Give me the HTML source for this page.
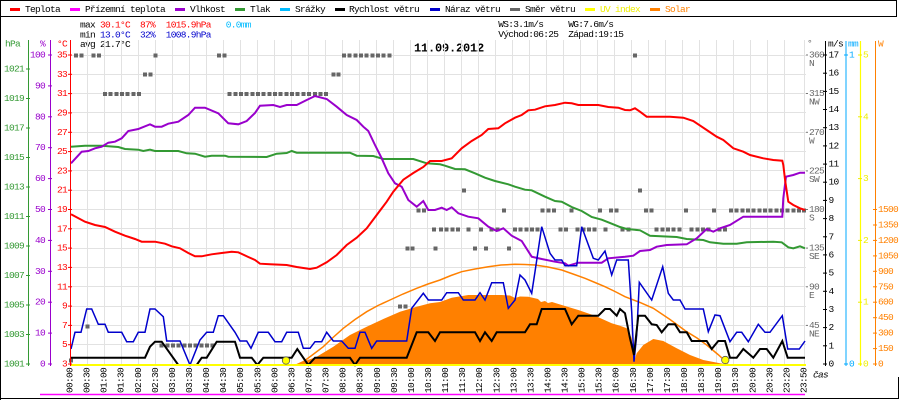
<!DOCTYPE html>
<html><head><meta charset="utf-8"><style>
html,body{margin:0;padding:0;background:#fff;}
svg{display:block;}
text{font-family:"Liberation Mono","DejaVu Sans Mono",monospace;font-size:9.5px;letter-spacing:-0.7px;}
.c{dominant-baseline:central;}
</style></head><body>
<svg width="900" height="400" viewBox="0 0 900 400" xmlns="http://www.w3.org/2000/svg">
<rect x="0" y="0" width="900" height="400" fill="#fff"/>
<!-- frame -->
<g stroke="#000" stroke-width="1" shape-rendering="crispEdges">
<line x1="0.5" y1="0" x2="0.5" y2="400"/>
<line x1="0" y1="0.5" x2="897" y2="0.5"/>
<line x1="0" y1="16.5" x2="897" y2="16.5"/>
<line x1="896.5" y1="0" x2="896.5" y2="17"/>
<line x1="0" y1="398.5" x2="899" y2="398.5"/>
<line x1="898.5" y1="377" x2="898.5" y2="399"/>
</g>
<!-- legend -->
<g stroke-width="3">
<line x1="10" y1="9.5" x2="20" y2="9.5" stroke="#f00"/>
<line x1="70" y1="9.5" x2="80" y2="9.5" stroke="#f0f"/>
<line x1="175" y1="9.5" x2="185" y2="9.5" stroke="#9900cc"/>
<line x1="235" y1="9.5" x2="245" y2="9.5" stroke="#339933"/>
<line x1="280" y1="9.5" x2="290" y2="9.5" stroke="#00bbff"/>
<line x1="335" y1="9.5" x2="345" y2="9.5" stroke="#000"/>
<line x1="430" y1="9.5" x2="440" y2="9.5" stroke="#0000cc"/>
<line x1="510" y1="9.5" x2="520" y2="9.5" stroke="#666"/>
<line x1="585" y1="9.5" x2="595" y2="9.5" stroke="#ffff00"/>
<line x1="650" y1="9.5" x2="660" y2="9.5" stroke="#ff8000"/>
</g>
<g fill="#000">
<text x="25" y="12">Teplota</text>
<text x="85" y="12">Přízemní teplota</text>
<text x="190" y="12">Vlhkost</text>
<text x="250" y="12">Tlak</text>
<text x="295" y="12">Srážky</text>
<text x="349" y="12">Rychlost větru</text>
<text x="445" y="12">Náraz větru</text>
<text x="525" y="12">Směr větru</text>
<text x="600" y="12" fill="#eeee00">UV index</text>
<text x="665" y="12" fill="#ff8000">Solar</text>
</g>
<!-- stats -->
<text x="80" y="27.5">max</text>
<text x="100" y="27.5" fill="#f00">30.1°C</text>
<text x="140" y="27.5" fill="#f00">87%</text>
<text x="165.7" y="27.5" fill="#f00">1015.9hPa</text>
<text x="225.7" y="27.5" fill="#00bbff">0.0mm</text>
<text x="80" y="37.5">min</text>
<text x="100" y="37.5" fill="#0000cc">13.0°C</text>
<text x="140" y="37.5" fill="#0000cc">32%</text>
<text x="165.7" y="37.5" fill="#0000cc">1008.9hPa</text>
<text x="80" y="47">avg 21.7°C</text>
<text x="498.3" y="27">WS:3.1m/s</text>
<text x="568.3" y="27">WG:7.6m/s</text>
<text x="498.3" y="37">Východ:06:25</text>
<text x="568.3" y="37">Západ:19:15</text>
<text x="414" y="51.5" style="font-size:12px;font-weight:bold;letter-spacing:-0.2px">11.09.2012</text>
<!-- grid -->
<g stroke="#e2e2e2" stroke-width="1" shape-rendering="crispEdges">
<line x1="87.5" y1="40" x2="87.5" y2="364"/><line x1="104.5" y1="40" x2="104.5" y2="364"/><line x1="121.5" y1="40" x2="121.5" y2="364"/><line x1="138.5" y1="40" x2="138.5" y2="364"/><line x1="155.5" y1="40" x2="155.5" y2="364"/><line x1="172.5" y1="40" x2="172.5" y2="364"/><line x1="189.5" y1="40" x2="189.5" y2="364"/><line x1="206.5" y1="40" x2="206.5" y2="364"/><line x1="223.5" y1="40" x2="223.5" y2="364"/><line x1="240.5" y1="40" x2="240.5" y2="364"/><line x1="257.5" y1="40" x2="257.5" y2="364"/><line x1="274.5" y1="40" x2="274.5" y2="364"/><line x1="291.5" y1="40" x2="291.5" y2="364"/><line x1="308.5" y1="40" x2="308.5" y2="364"/><line x1="325.5" y1="40" x2="325.5" y2="364"/><line x1="342.5" y1="40" x2="342.5" y2="364"/><line x1="359.5" y1="40" x2="359.5" y2="364"/><line x1="376.5" y1="40" x2="376.5" y2="364"/><line x1="393.5" y1="40" x2="393.5" y2="364"/><line x1="410.5" y1="40" x2="410.5" y2="364"/><line x1="427.5" y1="40" x2="427.5" y2="364"/><line x1="444.5" y1="40" x2="444.5" y2="364"/><line x1="461.5" y1="40" x2="461.5" y2="364"/><line x1="478.5" y1="40" x2="478.5" y2="364"/><line x1="495.5" y1="40" x2="495.5" y2="364"/><line x1="512.5" y1="40" x2="512.5" y2="364"/><line x1="529.5" y1="40" x2="529.5" y2="364"/><line x1="546.5" y1="40" x2="546.5" y2="364"/><line x1="563.5" y1="40" x2="563.5" y2="364"/><line x1="580.5" y1="40" x2="580.5" y2="364"/><line x1="597.5" y1="40" x2="597.5" y2="364"/><line x1="614.5" y1="40" x2="614.5" y2="364"/><line x1="631.5" y1="40" x2="631.5" y2="364"/><line x1="648.5" y1="40" x2="648.5" y2="364"/><line x1="665.5" y1="40" x2="665.5" y2="364"/><line x1="682.5" y1="40" x2="682.5" y2="364"/><line x1="699.5" y1="40" x2="699.5" y2="364"/><line x1="716.5" y1="40" x2="716.5" y2="364"/><line x1="733.5" y1="40" x2="733.5" y2="364"/><line x1="750.5" y1="40" x2="750.5" y2="364"/><line x1="767.5" y1="40" x2="767.5" y2="364"/><line x1="784.5" y1="40" x2="784.5" y2="364"/><line x1="804.5" y1="40" x2="804.5" y2="364"/>
<line x1="70" y1="55.5" x2="806" y2="55.5"/><line x1="70" y1="74.5" x2="806" y2="74.5"/><line x1="70" y1="93.5" x2="806" y2="93.5"/><line x1="70" y1="112.5" x2="806" y2="112.5"/><line x1="70" y1="132.5" x2="806" y2="132.5"/><line x1="70" y1="151.5" x2="806" y2="151.5"/><line x1="70" y1="170.5" x2="806" y2="170.5"/><line x1="70" y1="190.5" x2="806" y2="190.5"/><line x1="70" y1="209.5" x2="806" y2="209.5"/><line x1="70" y1="228.5" x2="806" y2="228.5"/><line x1="70" y1="248.5" x2="806" y2="248.5"/><line x1="70" y1="267.5" x2="806" y2="267.5"/><line x1="70" y1="286.5" x2="806" y2="286.5"/><line x1="70" y1="306.5" x2="806" y2="306.5"/><line x1="70" y1="325.5" x2="806" y2="325.5"/><line x1="70" y1="344.5" x2="806" y2="344.5"/>
</g>
<!-- solar fill -->
<polygon fill="#ff8000" points="293.3,365 300,363 316.7,356.7 333.3,346.7 350,335 366.7,326.7 383.3,319 400,311.7 416.7,306.7 430,303.3 440,302 451.7,297.7 468.3,295 501.7,295 510,295.5 515,298 520,296.5 528.3,296.7 538,299 541,302 545,301 548,303 552,302 561.7,305 578.3,310 595,315.7 611.7,323.3 620,325.7 626.7,328.3 631.7,338.3 634,361.7 636.7,353.3 643.3,345 653.3,339 663.3,341 676.7,348.3 690,355 703.3,360 720,363.3 730,365"/>
<!-- solar max line -->
<polyline fill="none" stroke="#ff8000" stroke-width="1.5" points="296,365 303.3,361.7 313,354.5 323.3,346.7 333,337.5 343.3,328.3 355,319.5 366.7,311.7 378,305.5 390,300 403,294 416.7,288.3 428,284 440,280 451,275.5 461.7,271.7 475,269 488.3,266.7 501,265 515,264.3 525,264.5 535,265 548,267 561.7,270 573,274 585,278.3 595,282.5 605,286.7 615,291.5 625,296.7 640,302.5 653.3,308.3 670,319.5 686.7,331.7 697,338 706.7,345 718,354.5 728,363.5"/>
<!-- wind direction squares -->
<g fill="#666" shape-rendering="crispEdges">
<rect x="74" y="53.5" width="4" height="4"/><rect x="79.7" y="53.5" width="4" height="4"/><rect x="91.3" y="53.5" width="4" height="4"/><rect x="97" y="53.5" width="4" height="4"/><rect x="153.7" y="53.5" width="4" height="4"/><rect x="217" y="53.5" width="4" height="4"/><rect x="222.3" y="53.5" width="4" height="4"/><rect x="342" y="53.5" width="4" height="4"/><rect x="347.7" y="53.5" width="4" height="4"/><rect x="353.3" y="53.5" width="4" height="4"/><rect x="359" y="53.5" width="4" height="4"/><rect x="364.7" y="53.5" width="4" height="4"/><rect x="370.3" y="53.5" width="4" height="4"/><rect x="376" y="53.5" width="4" height="4"/><rect x="381.7" y="53.5" width="4" height="4"/><rect x="387.3" y="53.5" width="4" height="4"/><rect x="633" y="53.5" width="4" height="4"/>
<rect x="143" y="72.5" width="4" height="4"/><rect x="148.3" y="72.5" width="4" height="4"/><rect x="331.3" y="72.5" width="4" height="4"/><rect x="336.3" y="72.5" width="4" height="4"/>
<rect x="103" y="92" width="4" height="4"/><rect x="108.7" y="92" width="4" height="4"/><rect x="114.3" y="92" width="4" height="4"/><rect x="120" y="92" width="4" height="4"/><rect x="125.7" y="92" width="4" height="4"/><rect x="131.3" y="92" width="4" height="4"/><rect x="137" y="92" width="4" height="4"/>
<rect x="227.7" y="92" width="4" height="4"/><rect x="233.4" y="92" width="4" height="4"/><rect x="239" y="92" width="4" height="4"/><rect x="244.7" y="92" width="4" height="4"/><rect x="250.4" y="92" width="4" height="4"/><rect x="256.1" y="92" width="4" height="4"/><rect x="261.7" y="92" width="4" height="4"/><rect x="267.4" y="92" width="4" height="4"/><rect x="273.1" y="92" width="4" height="4"/><rect x="278.7" y="92" width="4" height="4"/><rect x="284.4" y="92" width="4" height="4"/><rect x="290.1" y="92" width="4" height="4"/><rect x="295.7" y="92" width="4" height="4"/><rect x="301.4" y="92" width="4" height="4"/><rect x="307.1" y="92" width="4" height="4"/><rect x="312.8" y="92" width="4" height="4"/><rect x="318.4" y="92" width="4" height="4"/><rect x="324.1" y="92" width="4" height="4"/>
<rect x="462" y="188.7" width="4" height="4"/><rect x="638" y="188.7" width="4" height="4"/>
<rect x="416.3" y="208.7" width="4" height="4"/><rect x="422" y="208.7" width="4" height="4"/><rect x="502" y="208.7" width="4" height="4"/><rect x="540.7" y="208.7" width="4" height="4"/><rect x="546.3" y="208.7" width="4" height="4"/><rect x="552" y="208.7" width="4" height="4"/><rect x="569.7" y="208.7" width="4" height="4"/><rect x="598" y="208.7" width="4" height="4"/><rect x="609" y="208.7" width="4" height="4"/><rect x="614.7" y="208.7" width="4" height="4"/><rect x="644" y="208.7" width="4" height="4"/><rect x="649.7" y="208.7" width="4" height="4"/><rect x="684" y="208.7" width="4" height="4"/><rect x="712" y="208.7" width="4" height="4"/><rect x="729" y="208.7" width="4" height="4"/><rect x="734.7" y="208.7" width="4" height="4"/><rect x="740.3" y="208.7" width="4" height="4"/><rect x="746" y="208.7" width="4" height="4"/><rect x="751.7" y="208.7" width="4" height="4"/><rect x="757.4" y="208.7" width="4" height="4"/><rect x="763" y="208.7" width="4" height="4"/><rect x="768.7" y="208.7" width="4" height="4"/><rect x="774.4" y="208.7" width="4" height="4"/><rect x="780" y="208.7" width="4" height="4"/><rect x="785.7" y="208.7" width="4" height="4"/><rect x="791.4" y="208.7" width="4" height="4"/><rect x="797" y="208.7" width="4" height="4"/><rect x="802" y="208.7" width="4" height="4"/>
<rect x="432" y="227.3" width="4" height="4"/><rect x="439" y="227.3" width="4" height="4"/><rect x="444.7" y="227.3" width="4" height="4"/><rect x="450.3" y="227.3" width="4" height="4"/><rect x="456" y="227.3" width="4" height="4"/><rect x="466.7" y="227.3" width="4" height="4"/><rect x="479" y="227.3" width="4" height="4"/><rect x="489.7" y="227.3" width="4" height="4"/><rect x="495.3" y="227.3" width="4" height="4"/><rect x="513" y="227.3" width="4" height="4"/><rect x="518.7" y="227.3" width="4" height="4"/><rect x="524.3" y="227.3" width="4" height="4"/><rect x="530" y="227.3" width="4" height="4"/><rect x="535.7" y="227.3" width="4" height="4"/><rect x="558.3" y="227.3" width="4" height="4"/><rect x="564" y="227.3" width="4" height="4"/><rect x="575.7" y="227.3" width="4" height="4"/><rect x="581.3" y="227.3" width="4" height="4"/><rect x="587" y="227.3" width="4" height="4"/><rect x="592.7" y="227.3" width="4" height="4"/><rect x="603.7" y="227.3" width="4" height="4"/><rect x="620.3" y="227.3" width="4" height="4"/><rect x="626.3" y="227.3" width="4" height="4"/><rect x="654.7" y="227.3" width="4" height="4"/><rect x="660.3" y="227.3" width="4" height="4"/><rect x="666" y="227.3" width="4" height="4"/><rect x="671.7" y="227.3" width="4" height="4"/><rect x="677.3" y="227.3" width="4" height="4"/><rect x="689.7" y="227.3" width="4" height="4"/><rect x="695.3" y="227.3" width="4" height="4"/><rect x="701" y="227.3" width="4" height="4"/><rect x="706.7" y="227.3" width="4" height="4"/><rect x="717.3" y="227.3" width="4" height="4"/><rect x="723" y="227.3" width="4" height="4"/>
<rect x="405.3" y="246.3" width="4" height="4"/><rect x="410.3" y="246.3" width="4" height="4"/><rect x="433.7" y="246.3" width="4" height="4"/><rect x="473" y="246.3" width="4" height="4"/><rect x="484" y="246.3" width="4" height="4"/><rect x="507" y="246.3" width="4" height="4"/>
<rect x="398" y="304.7" width="4" height="4"/><rect x="403.7" y="304.7" width="4" height="4"/>
<rect x="85.7" y="324.7" width="4" height="4"/>
<rect x="159.7" y="343.7" width="4" height="4"/><rect x="165.3" y="343.7" width="4" height="4"/><rect x="171" y="343.7" width="4" height="4"/><rect x="176.7" y="343.7" width="4" height="4"/><rect x="182.3" y="343.7" width="4" height="4"/><rect x="188" y="343.7" width="4" height="4"/><rect x="193.7" y="343.7" width="4" height="4"/><rect x="199.3" y="343.7" width="4" height="4"/><rect x="205" y="343.7" width="4" height="4"/><rect x="210.7" y="343.7" width="4" height="4"/>
<rect x="69" y="358.7" width="4" height="4"/>
</g>
<!-- pressure -->
<polyline fill="none" stroke="#339933" stroke-width="2" points="71,146.7 85,145.7 101.7,145.7 118.3,147 125,149 138.3,149.7 143.3,151 150,149.7 155,151 178.3,151 186.7,153.3 195,153.7 205,156.7 211.7,155.7 225,155.7 228.3,156.7 266.7,157 276.7,153.7 286.7,153 291.7,151 296.7,152.7 350,152.7 356.7,155.7 373.3,156 383.3,159 413.3,159 426.7,163.3 440,164.3 445,165.7 455,169 465,169.3 475,173.3 485,177.7 495,181 508.3,184.3 515,186.7 525,189.7 531.7,190.3 545,196.7 555,201 561.7,201.7 571.7,207 581.7,211 591.7,217 601.7,219.7 611.7,223.7 620,227 626.7,229 640,230.3 650,235.7 676.7,237 686.7,239 703.3,240 710,242.3 723.3,243.7 736.7,243.7 746.7,242.3 773.3,241.7 781.7,242.3 788.3,247.3 793.3,248.3 800,246.3 805,248.3"/>
<!-- humidity -->
<polyline fill="none" stroke="#9900cc" stroke-width="2" points="71,163.3 81.7,151.7 88.3,151 95,148.3 101.7,146.7 108.3,142.7 115,141.7 121.7,138.3 128.3,131 138.3,129 150,124.3 155,126.7 161.7,126.7 168.3,123.7 178.3,121.7 188.3,115 195,107.7 205,107.7 218.3,113.3 228.3,123.3 238.3,124.3 246.7,121 255,113 260,105.7 273.3,105 280,107 286.7,105 296.7,105 306.7,100 315,96 326.7,99 336.7,106.7 346.7,115 356.7,120 363.3,126.7 368.3,131 375,145 381.7,158.3 388.3,173.3 395,183.3 401.7,186.7 408.3,200 416.7,206.7 423.3,201 428.3,210 435,210 441.7,207.7 446.7,210 451.7,207.3 458.3,213.3 468.3,216.7 478.3,218.3 488.3,226.7 496.7,231 503.3,228.3 511.7,235.7 521.7,241 531.7,256.7 541.7,259 555,261.7 565,263.3 568.3,265.7 578.3,262.7 601.7,262.7 608.3,258.3 625,256.7 633.3,255.7 640,251 650,250 656.7,246.7 666.7,245 686.7,244.3 696.7,238.3 706.7,229 713.3,231.7 720,228.3 730,225 743.3,216.7 782.3,216.7 783.3,198.3 786,176.7 793.3,175 800,172.7 805,172.7"/>
<!-- temperature -->
<polyline fill="none" stroke="#ff0000" stroke-width="2" points="71,214.3 85,221.7 95,225 105,227 115,231.7 125,235.7 135,239 141.7,241.7 155,241.7 165,243.7 171.7,246.3 180,248.3 188.3,253 195,256.3 201.7,256.3 211.7,254.3 221.7,253 231.7,251.7 238.3,252.3 248.3,257 255,260 260,263.7 270,264.3 286.7,265 296.7,267 310,269 316.7,267.7 326.7,262.3 336.7,255 346.7,245 356.7,237.7 366.7,228.3 376.7,215 386.7,201.7 393.3,191.7 403.3,179.7 413.3,173 423.3,167 430,161 441.7,161 451.7,158.3 461.7,148.3 471.7,141 481.7,135 488.3,129 498.3,128.3 505,123.3 515,117.7 521.7,115 528.3,110.3 535,109.7 545,106.3 555,105 565,102.7 571.7,103.3 578.3,105 598.3,105 608.3,107 618.3,107.7 625,110 630,110.3 635,108.3 640,111.7 646.7,116.7 670,116.7 683.3,117.7 693.3,121 706.7,130 716.7,136.7 723.3,140 733.3,148.3 743.3,151.7 750,155 763.3,158.3 773.3,160 782.3,160.7 783.3,165 785.3,181.7 788.3,201.7 793.3,205 800,208.3 805,210"/>
<!-- gust -->
<polyline fill="none" stroke="#0000cc" stroke-width="1.5" points="71,349 75,332.3 81,332.3 86.7,309 91.7,309 98.3,324.3 105,324.3 108.3,332.3 121.7,332.3 126.7,341.7 133.3,341.7 138.3,332.3 145,332.3 150,309 155,309 163.3,316.7 166.7,341 180,341 190,365 200,340 206.7,332.3 213.3,332.3 218.3,315.7 223.3,315.7 235,332.3 240,341 246.7,341 251,348.3 258.3,332.3 268.3,332.3 275,341.7 281.7,341.7 286.7,332.3 298.3,332.3 303.3,348.3 310,348.3 315,341.7 321.7,341.7 326.7,332.3 333.3,341 341.7,341 348.3,348.3 355,348.3 360,332.3 365,332.3 371.7,348.3 376.7,341 406.7,341 411.7,308.3 423.3,293.3 428.3,300 441.7,300 446.7,292.7 458.3,292.7 463.3,300 475,300 480,292.7 485,300 491.7,282.7 503.3,282.7 508.3,308.3 515,300 520,275 525,280 531.7,293.3 535,271.7 541.7,226.7 550,253.3 555,260 561.7,260 565,265.7 576.7,265.7 581.7,226.7 593.3,258.3 598.3,260 605,251 611.7,275 616.7,260 628.3,260 631.7,311.7 634,361.7 636.7,335 639.3,282.3 651.7,300 662.7,266.7 668.3,293.3 673.3,300 680,300 685,309 703.3,309 708.3,331.7 715,315 720,315.7 730,341.7 736.7,332.3 741.7,332.3 748.3,341.7 758.3,324.3 765,332.3 770,332.3 782.3,315.7 787.7,349 799.3,349 805,341"/>
<!-- wind speed -->
<polyline fill="none" stroke="#000" stroke-width="2" points="71,357.7 145,357.7 150,346.7 155,341.7 161.7,341.7 178.3,365 196.7,365 201.7,357.7 206.7,357.7 216.7,341.7 235,341.7 240,357.7 251.7,357.7 257.3,365 263.3,357.7 291.7,357.7 297.3,349 308.3,365 315,357.7 350,357.7 355,365 360,357.7 406.7,357.7 416.7,332.3 428.3,332.3 435,341 440,332.3 475,332.3 480,341 485,332.3 491.7,341 496.7,332.3 525,332.3 530,324.3 536.7,324.3 541.7,309 565,309 571.7,324.3 578.3,315.7 598.3,315.7 605,309 610,309 616.7,315.7 620,309 625,313.3 630,338.3 634,355 638.3,315.7 645,315.7 651.7,324.3 656.7,325 661.7,332.3 668.3,324.3 675,324.3 680,332.3 686.7,332.3 691.7,341 706.7,341 711.7,349 718.3,341 725,341 730,357.7 736.7,357.7 743.3,349 753.3,357.7 760,349 766.7,349 773.3,357.7 782.3,341 787.7,357.7 805,357.7"/>
<!-- UV line -->
<line x1="70" y1="365" x2="806" y2="365" stroke="#ffff00" stroke-width="2"/>
<circle cx="286" cy="360.5" r="3.7" fill="#ffff00" stroke="#555" stroke-width="0.8"/>
<circle cx="725.3" cy="360" r="3.7" fill="#ffff00" stroke="#555" stroke-width="0.8"/>
<!-- magenta ground temp -->
<line x1="40" y1="394.5" x2="805" y2="394.5" stroke="#ff00ff" stroke-width="1.5"/>
<!-- left axes -->
<g shape-rendering="crispEdges" stroke-width="1">
<line x1="28.5" y1="40" x2="28.5" y2="366" stroke="#339933"/>
<line x1="50.5" y1="40" x2="50.5" y2="366" stroke="#9900cc"/>
<line x1="70.5" y1="40" x2="70.5" y2="366" stroke="#ff0000"/>
</g>
<text x="5" y="46.5" fill="#339933">hPa</text>
<text x="40" y="46.5" fill="#9900cc">%</text>
<text x="57" y="46.5" fill="#ff0000">°C</text>
<g stroke="#339933"><line x1="26" y1="364" x2="30" y2="364"/><line x1="26" y1="334.5" x2="30" y2="334.5"/><line x1="26" y1="305" x2="30" y2="305"/><line x1="26" y1="275.5" x2="30" y2="275.5"/><line x1="26" y1="246" x2="30" y2="246"/><line x1="26" y1="216.5" x2="30" y2="216.5"/><line x1="26" y1="187" x2="30" y2="187"/><line x1="26" y1="157.5" x2="30" y2="157.5"/><line x1="26" y1="128" x2="30" y2="128"/><line x1="26" y1="98.5" x2="30" y2="98.5"/><line x1="26" y1="69" x2="30" y2="69"/></g>
<g fill="#339933" text-anchor="end" class="c">
<text class="c" x="24" y="364">1001</text><text class="c" x="24" y="334.5">1003</text><text class="c" x="24" y="305">1005</text><text class="c" x="24" y="275.5">1007</text><text class="c" x="24" y="246">1009</text><text class="c" x="24" y="216.5">1011</text><text class="c" x="24" y="187">1013</text><text class="c" x="24" y="157.5">1015</text><text class="c" x="24" y="128">1017</text><text class="c" x="24" y="98.5">1019</text><text class="c" x="24" y="69">1021</text>
</g>
<g stroke="#9900cc"><line x1="48" y1="364" x2="52" y2="364"/><line x1="48" y1="333.1" x2="52" y2="333.1"/><line x1="48" y1="302.2" x2="52" y2="302.2"/><line x1="48" y1="271.3" x2="52" y2="271.3"/><line x1="48" y1="240.4" x2="52" y2="240.4"/><line x1="48" y1="209.5" x2="52" y2="209.5"/><line x1="48" y1="178.6" x2="52" y2="178.6"/><line x1="48" y1="147.7" x2="52" y2="147.7"/><line x1="48" y1="116.8" x2="52" y2="116.8"/><line x1="48" y1="85.9" x2="52" y2="85.9"/><line x1="48" y1="55" x2="52" y2="55"/></g>
<g fill="#9900cc" text-anchor="end">
<text class="c" x="45" y="364">0</text><text class="c" x="45" y="333.1">10</text><text class="c" x="45" y="302.2">20</text><text class="c" x="45" y="271.3">30</text><text class="c" x="45" y="240.4">40</text><text class="c" x="45" y="209.5">50</text><text class="c" x="45" y="178.6">60</text><text class="c" x="45" y="147.7">70</text><text class="c" x="45" y="116.8">80</text><text class="c" x="45" y="85.9">90</text><text class="c" x="45" y="55">100</text>
</g>
<g stroke="#ff0000"><line x1="68" y1="364" x2="72" y2="364"/><line x1="68" y1="344.7" x2="72" y2="344.7"/><line x1="68" y1="325.4" x2="72" y2="325.4"/><line x1="68" y1="306.1" x2="72" y2="306.1"/><line x1="68" y1="286.8" x2="72" y2="286.8"/><line x1="68" y1="267.4" x2="72" y2="267.4"/><line x1="68" y1="248.1" x2="72" y2="248.1"/><line x1="68" y1="228.8" x2="72" y2="228.8"/><line x1="68" y1="209.5" x2="72" y2="209.5"/><line x1="68" y1="190.2" x2="72" y2="190.2"/><line x1="68" y1="170.9" x2="72" y2="170.9"/><line x1="68" y1="151.6" x2="72" y2="151.6"/><line x1="68" y1="132.3" x2="72" y2="132.3"/><line x1="68" y1="112.9" x2="72" y2="112.9"/><line x1="68" y1="93.6" x2="72" y2="93.6"/><line x1="68" y1="74.3" x2="72" y2="74.3"/><line x1="68" y1="55" x2="72" y2="55"/></g>
<g fill="#ff0000" text-anchor="end">
<text class="c" x="67" y="364">3</text><text class="c" x="67" y="344.7">5</text><text class="c" x="67" y="325.4">7</text><text class="c" x="67" y="306.1">9</text><text class="c" x="67" y="286.8">11</text><text class="c" x="67" y="267.4">13</text><text class="c" x="67" y="248.1">15</text><text class="c" x="67" y="228.8">17</text><text class="c" x="67" y="209.5">19</text><text class="c" x="67" y="190.2">21</text><text class="c" x="67" y="170.9">23</text><text class="c" x="67" y="151.6">25</text><text class="c" x="67" y="132.3">27</text><text class="c" x="67" y="112.9">29</text><text class="c" x="67" y="93.6">31</text><text class="c" x="67" y="74.3">33</text><text class="c" x="67" y="55">35</text>
</g>
<!-- right: direction -->
<text x="807" y="46" fill="#666">°</text>
<g fill="#777"><rect x="806" y="54.5" width="2" height="1"/><rect x="806" y="93" width="2" height="1"/><rect x="806" y="131.8" width="2" height="1"/><rect x="806" y="170.4" width="2" height="1"/><rect x="806" y="209" width="2" height="1"/><rect x="806" y="247.6" width="2" height="1"/><rect x="806" y="286.3" width="2" height="1"/><rect x="806" y="324.9" width="2" height="1"/></g>
<g fill="#666">
<text class="c" x="809" y="55">360</text><text class="c" x="809" y="63.5">N</text>
<text class="c" x="809" y="93.6">315</text><text class="c" x="809" y="102">NW</text>
<text class="c" x="809" y="132.3">270</text><text class="c" x="809" y="140.8">W</text>
<text class="c" x="809" y="170.9">225</text><text class="c" x="809" y="179.4">SW</text>
<text class="c" x="809" y="209.5">180</text><text class="c" x="809" y="218">S</text>
<text class="c" x="809" y="248.1">135</text><text class="c" x="809" y="256.6">SE</text>
<text class="c" x="809" y="286.8">90</text><text class="c" x="809" y="295.3">E</text>
<text class="c" x="809" y="325.4">45</text><text class="c" x="809" y="333.9">NE</text>
</g>
<!-- m/s axis -->
<line x1="825.5" y1="41" x2="825.5" y2="366" stroke="#000" shape-rendering="crispEdges"/>
<text x="828" y="46.5">m/s</text>
<g stroke="#000"><line x1="823" y1="364" x2="827" y2="364"/><line x1="823" y1="345.8" x2="827" y2="345.8"/><line x1="823" y1="327.6" x2="827" y2="327.6"/><line x1="823" y1="309.5" x2="827" y2="309.5"/><line x1="823" y1="291.3" x2="827" y2="291.3"/><line x1="823" y1="273.1" x2="827" y2="273.1"/><line x1="823" y1="254.9" x2="827" y2="254.9"/><line x1="823" y1="236.8" x2="827" y2="236.8"/><line x1="823" y1="218.6" x2="827" y2="218.6"/><line x1="823" y1="200.4" x2="827" y2="200.4"/><line x1="823" y1="182.2" x2="827" y2="182.2"/><line x1="823" y1="164.1" x2="827" y2="164.1"/><line x1="823" y1="145.9" x2="827" y2="145.9"/><line x1="823" y1="127.7" x2="827" y2="127.7"/><line x1="823" y1="109.5" x2="827" y2="109.5"/><line x1="823" y1="91.4" x2="827" y2="91.4"/><line x1="823" y1="73.2" x2="827" y2="73.2"/><line x1="823" y1="55" x2="827" y2="55"/></g>
<g fill="#000">
<text class="c" x="828.5" y="364">0</text><text class="c" x="828.5" y="345.8">1</text><text class="c" x="828.5" y="327.6">2</text><text class="c" x="828.5" y="309.5">3</text><text class="c" x="828.5" y="291.3">4</text><text class="c" x="828.5" y="273.1">5</text><text class="c" x="828.5" y="254.9">6</text><text class="c" x="828.5" y="236.8">7</text><text class="c" x="828.5" y="218.6">8</text><text class="c" x="828.5" y="200.4">9</text><text class="c" x="828.5" y="182.2">10</text><text class="c" x="828.5" y="164.1">11</text><text class="c" x="828.5" y="145.9">12</text><text class="c" x="828.5" y="127.7">13</text><text class="c" x="828.5" y="109.5">14</text><text class="c" x="828.5" y="91.4">15</text><text class="c" x="828.5" y="73.2">16</text><text class="c" x="828.5" y="55">17</text>
</g>
<!-- mm axis -->
<line x1="846" y1="41" x2="846" y2="366" stroke="#00aaff" stroke-width="1"/>
<text x="848" y="46.5" fill="#00aaff">mm</text>
<g stroke="#00aaff"><line x1="844" y1="55" x2="848" y2="55"/><line x1="844" y1="364" x2="848" y2="364"/></g>
<text class="c" x="849" y="55" fill="#00aaff">1</text>
<text class="c" x="849" y="364" fill="#00aaff">0</text>
<!-- UV axis -->
<line x1="860.5" y1="41" x2="860.5" y2="366" stroke="#ffff00" stroke-width="1.2"/>
<g stroke="#eeee00"><line x1="858" y1="55" x2="862" y2="55"/><line x1="858" y1="116.8" x2="862" y2="116.8"/><line x1="858" y1="178.6" x2="862" y2="178.6"/><line x1="858" y1="240.4" x2="862" y2="240.4"/><line x1="858" y1="302.2" x2="862" y2="302.2"/><line x1="858" y1="364" x2="862" y2="364"/></g>
<g fill="#eeee00">
<text class="c" x="863" y="55">5</text><text class="c" x="863" y="116.8">4</text><text class="c" x="863" y="178.6">3</text><text class="c" x="863" y="240.4">2</text><text class="c" x="863" y="302.2">1</text><text class="c" x="863" y="364">0</text>
</g>
<!-- W axis -->
<line x1="875.5" y1="41" x2="875.5" y2="366" stroke="#ff8000" stroke-width="1"/>
<text x="878" y="46.5" fill="#ff8000">W</text>
<g stroke="#ff8000"><line x1="873" y1="364" x2="877" y2="364"/><line x1="873" y1="348.6" x2="877" y2="348.6"/><line x1="873" y1="333.1" x2="877" y2="333.1"/><line x1="873" y1="317.7" x2="877" y2="317.7"/><line x1="873" y1="302.2" x2="877" y2="302.2"/><line x1="873" y1="286.8" x2="877" y2="286.8"/><line x1="873" y1="271.3" x2="877" y2="271.3"/><line x1="873" y1="255.9" x2="877" y2="255.9"/><line x1="873" y1="240.4" x2="877" y2="240.4"/><line x1="873" y1="225" x2="877" y2="225"/><line x1="873" y1="209.5" x2="877" y2="209.5"/></g>
<g fill="#ff8000">
<text class="c" x="878" y="364">0</text><text class="c" x="878" y="348.6">150</text><text class="c" x="878" y="333.1">300</text><text class="c" x="878" y="317.7">450</text><text class="c" x="878" y="302.2">600</text><text class="c" x="878" y="286.8">750</text><text class="c" x="878" y="271.3">900</text><text class="c" x="878" y="255.9">1050</text><text class="c" x="878" y="240.4">1200</text><text class="c" x="878" y="225">1350</text><text class="c" x="878" y="209.5">1500</text>
</g>
<!-- x labels -->
<g fill="#000">
<text class="c" transform="translate(70,393) rotate(-90)">00:00</text>
<text class="c" transform="translate(87.1,393) rotate(-90)">00:30</text>
<text class="c" transform="translate(104.1,393) rotate(-90)">01:00</text>
<text class="c" transform="translate(121.2,393) rotate(-90)">01:30</text>
<text class="c" transform="translate(138.3,393) rotate(-90)">02:00</text>
<text class="c" transform="translate(155.4,393) rotate(-90)">02:30</text>
<text class="c" transform="translate(172.4,393) rotate(-90)">03:00</text>
<text class="c" transform="translate(189.5,393) rotate(-90)">03:30</text>
<text class="c" transform="translate(206.6,393) rotate(-90)">04:00</text>
<text class="c" transform="translate(223.6,393) rotate(-90)">04:30</text>
<text class="c" transform="translate(240.7,393) rotate(-90)">05:00</text>
<text class="c" transform="translate(257.8,393) rotate(-90)">05:30</text>
<text class="c" transform="translate(274.8,393) rotate(-90)">06:00</text>
<text class="c" transform="translate(291.9,393) rotate(-90)">06:30</text>
<text class="c" transform="translate(309,393) rotate(-90)">07:00</text>
<text class="c" transform="translate(326.1,393) rotate(-90)">07:30</text>
<text class="c" transform="translate(343.1,393) rotate(-90)">08:00</text>
<text class="c" transform="translate(360.2,393) rotate(-90)">08:30</text>
<text class="c" transform="translate(377.3,393) rotate(-90)">09:00</text>
<text class="c" transform="translate(394.3,393) rotate(-90)">09:30</text>
<text class="c" transform="translate(411.4,393) rotate(-90)">10:00</text>
<text class="c" transform="translate(428.5,393) rotate(-90)">10:30</text>
<text class="c" transform="translate(445.5,393) rotate(-90)">11:00</text>
<text class="c" transform="translate(462.6,393) rotate(-90)">11:30</text>
<text class="c" transform="translate(479.7,393) rotate(-90)">12:00</text>
<text class="c" transform="translate(496.8,393) rotate(-90)">12:30</text>
<text class="c" transform="translate(513.8,393) rotate(-90)">13:00</text>
<text class="c" transform="translate(530.9,393) rotate(-90)">13:30</text>
<text class="c" transform="translate(548,393) rotate(-90)">14:00</text>
<text class="c" transform="translate(565,393) rotate(-90)">14:30</text>
<text class="c" transform="translate(582.1,393) rotate(-90)">15:00</text>
<text class="c" transform="translate(599.2,393) rotate(-90)">15:30</text>
<text class="c" transform="translate(616.2,393) rotate(-90)">16:00</text>
<text class="c" transform="translate(633.3,393) rotate(-90)">16:30</text>
<text class="c" transform="translate(650.4,393) rotate(-90)">17:00</text>
<text class="c" transform="translate(667.5,393) rotate(-90)">17:30</text>
<text class="c" transform="translate(684.5,393) rotate(-90)">18:00</text>
<text class="c" transform="translate(701.6,393) rotate(-90)">18:30</text>
<text class="c" transform="translate(718.7,393) rotate(-90)">19:00</text>
<text class="c" transform="translate(735.7,393) rotate(-90)">19:30</text>
<text class="c" transform="translate(752.8,393) rotate(-90)">20:00</text>
<text class="c" transform="translate(769.9,393) rotate(-90)">20:30</text>
<text class="c" transform="translate(786.9,393) rotate(-90)">23:20</text>
<text class="c" transform="translate(804,393) rotate(-90)">23:50</text>
</g>
<text x="813" y="377.5" font-style="italic">čas</text>
</svg>
</body></html>
